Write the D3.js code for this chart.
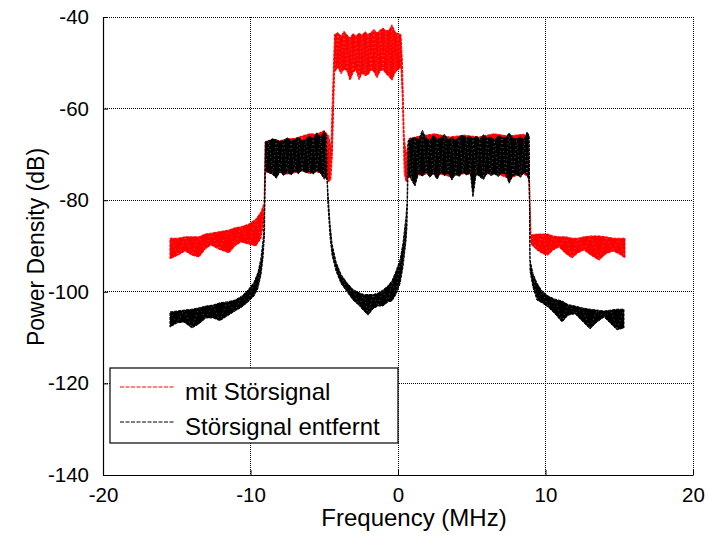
<!DOCTYPE html>
<html>
<head>
<meta charset="utf-8">
<script src="https://cdn.jsdelivr.net/npm/d3@7"></script>
<style>
body { margin: 0; background: #fff; }
svg { display: block; font-family: "Liberation Sans", Arial, sans-serif; }
</style>
</head>
<body>
<svg id="plot" width="708" height="539"></svg>
<script>
// axis ticks
const xTicks = [-20, -10, 0, 10, 20];
const yTicks = [-140, -120, -100, -80, -60, -40];
const legendLabels = ["mit Störsignal", "Störsignal entfernt"];

// spectra: [frequency MHz, upper envelope dB, lower envelope dB]
const redLeftSkirt = [
    [-15.46, -88.3, -92.8], [-14.92, -88.3, -92.0], [-14.44, -88.0, -91.1], [-13.97, -88.0, -92.0],
    [-13.49, -88.0, -92.4], [-13.08, -87.4, -90.7], [-12.68, -87.2, -89.8], [-12.14, -86.9, -90.7],
    [-11.46, -86.5, -91.5], [-11.05, -86.0, -90.0], [-10.64, -85.8, -89.1], [-10.10, -85.2, -89.6],
    [-9.63, -84.1, -90.0], [-9.29, -82.6, -88.3], [-9.08, -80.6, -84.3]
];
const redLeftBand = [
    [-9.0, -67.2, -73.8], [-8.5, -66.8, -74.2], [-8.0, -67.0, -74.0], [-7.5, -66.6, -74.3],
    [-7.0, -66.5, -74.0], [-6.5, -66.0, -73.6], [-6.0, -65.5, -74.2], [-5.5, -65.6, -73.8],
    [-5.0, -64.8, -74.5], [-4.7, -66.0, -76.0], [-4.55, -68.5, -75.5], [-4.45, -58.0, -70.0]
];
const redCentre = [
    [-4.30, -43.8, -52.0], [-4.07, -43.4, -51.0], [-3.86, -44.2, -52.4], [-3.66, -43.1, -51.4],
    [-3.46, -43.9, -51.8], [-3.25, -44.6, -53.8], [-3.05, -43.6, -52.2], [-2.85, -44.2, -51.5],
    [-2.64, -43.5, -53.7], [-2.44, -44.0, -52.3], [-2.24, -43.2, -52.8], [-2.03, -43.8, -52.6],
    [-1.83, -43.4, -51.5], [-1.63, -42.7, -52.0], [-1.42, -43.5, -53.3], [-1.22, -42.9, -51.8],
    [-1.02, -42.4, -51.5], [-0.81, -43.0, -52.4], [-0.61, -42.9, -53.0], [-0.41, -41.7, -53.8],
    [-0.20, -43.3, -52.2], [0.0, -43.6, -51.5], [0.20, -43.8, -51.0], [0.30, -50.0, -58.0],
    [0.42, -66.0, -74.0], [0.55, -70.0, -76.0]
];
const redRightBand = [
    [0.75, -66.5, -74.8], [1.5, -66.0, -74.5], [2.5, -65.5, -74.0], [3.5, -66.2, -74.8],
    [4.5, -65.8, -74.2], [5.5, -66.2, -74.6], [6.5, -65.5, -74.0], [7.5, -66.0, -75.2],
    [8.5, -65.6, -74.2], [8.85, -66.2, -75.0], [8.95, -80.0, -84.0]
];
const redRightSkirt = [
    [9.02, -87.6, -89.6], [9.42, -87.4, -90.9], [9.83, -87.4, -91.7], [10.17, -87.4, -92.0],
    [10.51, -87.8, -90.9], [10.92, -88.0, -90.2], [11.39, -88.0, -91.7], [11.80, -88.3, -92.6],
    [12.20, -88.3, -91.5], [12.61, -88.0, -90.9], [13.08, -87.8, -92.0], [13.63, -87.8, -93.1],
    [14.10, -88.0, -91.7], [14.58, -88.3, -91.1], [14.98, -88.3, -91.7], [15.39, -88.3, -92.6]
];

const blackLeftSkirt = [
    [-15.46, -104.4, -107.7], [-14.98, -104.2, -106.8], [-14.51, -104.0, -106.6], [-13.97, -103.8, -107.9],
    [-13.49, -103.5, -107.0], [-13.02, -103.1, -105.7], [-12.54, -102.9, -105.7], [-12.07, -102.4, -106.3],
    [-11.59, -102.2, -105.3], [-11.05, -101.8, -104.2], [-10.58, -100.9, -103.3], [-10.17, -99.6, -102.2],
    [-9.76, -97.9, -100.9], [-9.49, -95.7, -99.2], [-9.29, -92.6, -96.3], [-9.15, -88.7, -92.6],
    [-9.05, -83.2, -87.6]
];
const blackLeftBand = [
    [-9.0, -67.3, -73.5], [-8.75, -67.0, -74.0], [-8.5, -66.6, -74.4], [-8.25, -66.8, -75.2],
    [-8.0, -67.2, -73.8], [-7.75, -66.9, -74.6], [-7.5, -66.4, -73.9], [-7.25, -67.0, -74.5],
    [-7.0, -66.8, -73.6], [-6.75, -66.2, -74.2], [-6.5, -67.1, -73.4], [-6.25, -66.7, -74.0],
    [-6.0, -66.0, -73.7], [-5.75, -66.6, -74.3], [-5.5, -65.3, -73.5], [-5.25, -66.3, -74.1],
    [-5.0, -65.0, -75.4], [-4.85, -66.0, -75.0]
];
const blackValley = [
    [-4.81, -74.5, -76.0], [-4.75, -78.0, -81.0], [-4.61, -85.0, -88.0], [-4.47, -89.5, -92.0],
    [-4.20, -93.5, -95.5], [-3.86, -96.2, -98.2], [-3.46, -98.0, -100.0], [-3.05, -99.5, -101.8],
    [-2.64, -100.2, -103.0], [-2.31, -100.6, -104.2], [-2.03, -100.6, -105.1], [-1.69, -100.6, -103.7],
    [-1.36, -100.3, -103.1], [-1.02, -99.6, -103.1], [-0.68, -98.7, -102.2], [-0.41, -97.6, -102.0],
    [-0.14, -95.5, -100.6], [0.14, -93.0, -98.2], [0.34, -89.3, -94.6], [0.54, -83.5, -89.0],
    [0.61, -80.6, -85.8]
];
const blackRightBand = [
    [0.68, -67.0, -74.5], [0.90, -66.6, -75.5], [1.15, -66.3, -76.9], [1.40, -66.8, -74.0],
    [1.65, -64.7, -74.8], [1.90, -66.5, -73.8], [2.15, -66.9, -75.0], [2.40, -65.8, -74.2],
    [2.65, -66.7, -75.4], [2.90, -66.4, -73.9], [3.15, -65.6, -74.6], [3.40, -66.8, -74.0],
    [3.65, -66.3, -75.6], [3.90, -66.9, -74.3], [4.15, -66.2, -74.8], [4.40, -65.8, -73.9],
    [4.65, -66.4, -74.5], [4.90, -66.1, -74.0], [5.08, -66.6, -79.3], [5.30, -66.0, -74.2],
    [5.55, -66.7, -74.9], [5.80, -65.7, -75.5], [6.05, -66.5, -74.0], [6.30, -66.2, -74.6],
    [6.55, -66.9, -74.3], [6.80, -65.9, -74.8], [7.05, -66.3, -74.1], [7.30, -66.4, -74.2],
    [7.53, -65.3, -76.3], [7.80, -66.5, -74.6], [8.05, -66.6, -74.4], [8.30, -66.2, -75.0],
    [8.55, -66.8, -74.0], [8.75, -65.1, -74.4], [8.90, -66.0, -76.0]
];
const blackRightSkirt = [
    [8.95, -93.0, -95.5], [9.15, -96.0, -99.0], [9.42, -98.1, -101.8], [9.76, -99.8, -102.4],
    [10.17, -100.9, -103.3], [10.64, -101.6, -104.8], [11.12, -102.0, -106.6], [11.53, -102.8, -105.1],
    [12.00, -103.1, -104.8], [12.47, -103.5, -106.3], [13.02, -103.8, -108.1], [13.49, -104.0, -106.6],
    [13.97, -104.2, -105.5], [14.44, -104.0, -107.0], [14.85, -103.8, -108.3], [15.32, -103.8, -107.9]
];

const redSpectrum = [].concat(redLeftSkirt, redLeftBand, redCentre, redRightBand, redRightSkirt);
const blackSpectrum = [].concat(blackLeftSkirt, blackLeftBand, blackValley, blackRightBand, blackRightSkirt);

const svg = d3.select("#plot");
const plotLeft = 103, plotRight = 693, plotTop = 17, plotBottom = 475;

let xScale = d3.scaleLinear().domain([-20, 20]).range([plotLeft, plotRight]);
let yScale = d3.scaleLinear().domain([-140, -40]).range([plotBottom, plotTop]);

// dotted grid, top and right edge included
svg.append("g").selectAll("line")
    .data(xTicks.slice(1))
    .enter()
    .append("line")
    .attr("x1", d => xScale(d)).attr("x2", d => xScale(d))
    .attr("y1", plotTop).attr("y2", plotBottom)
    .attr("stroke", "#000").attr("stroke-width", 1)
    .attr("stroke-dasharray", "1,1")
    .attr("shape-rendering", "crispEdges");

svg.append("g").selectAll("line")
    .data(yTicks.slice(1))
    .enter()
    .append("line")
    .attr("x1", plotLeft).attr("x2", plotRight)
    .attr("y1", d => yScale(d)).attr("y2", d => yScale(d))
    .attr("stroke", "#000").attr("stroke-width", 1)
    .attr("stroke-dasharray", "1,1")
    .attr("shape-rendering", "crispEdges");

const band = d3.area()
    .x(d => xScale(d[0]))
    .y0(d => yScale(d[2]))
    .y1(d => yScale(d[1]));

// zigzag between the envelopes, gives the hatched look of the dense trace
const zigzag = d3.line()
    .x((d, i) => xScale(d[0]))
    .y((d, i) => yScale(i % 2 ? d[2] : d[1]));

function drawSpectrum(data, colour) {
    svg.append("path")
        .datum(data)
        .attr("d", band)
        .attr("fill", colour)
        .attr("stroke", colour)
        .attr("stroke-width", 1)
        .attr("stroke-dasharray", "3,1")
        .attr("stroke-linejoin", "round");
    svg.append("path")
        .datum(data)
        .attr("d", zigzag)
        .attr("fill", "none")
        .attr("stroke", "#fff")
        .attr("stroke-width", 0.6)
        .attr("stroke-opacity", 0.55)
        .attr("stroke-dasharray", "1,3");
}

drawSpectrum(redSpectrum, "#ff0000");
drawSpectrum(blackSpectrum, "#000");

const axisB = d3.axisBottom(xScale)
    .tickValues(xTicks)
    .tickFormat(d => String(d))
    .tickSizeInner(-5)
    .tickSizeOuter(0)
    .tickPadding(12);

const axisL = d3.axisLeft(yScale)
    .tickValues(yTicks)
    .tickFormat(d => String(d))
    .tickSizeInner(-5)
    .tickSizeOuter(0)
    .tickPadding(14);

const gx = svg.append("g")
    .attr("transform", "translate(0," + plotBottom + ")")
    .call(axisB);

const gy = svg.append("g")
    .attr("transform", "translate(" + plotLeft + ",0)")
    .call(axisL);

[gx, gy].forEach(g => {
    g.select(".domain").attr("stroke", "#000").attr("stroke-width", 1.2);
    g.selectAll(".tick line").attr("stroke", "#000");
    g.selectAll(".tick text")
        .attr("fill", "#000")
        .style("font-size", "20.5px")
        .style("font-family", "'Liberation Sans', Arial, sans-serif");
});

svg.append("text")
    .attr("x", 414)
    .attr("y", 526)
    .style("text-anchor", "middle")
    .style("font-size", "24px")
    .text("Frequency (MHz)");

svg.append("text")
    .attr("transform", "translate(44, 247) rotate(-90)")
    .style("text-anchor", "middle")
    .style("font-size", "23px")
    .text("Power Density (dB)");

// legend
const legend = svg.append("g");
legend.append("rect")
    .attr("x", 110).attr("y", 368)
    .attr("width", 288).attr("height", 75)
    .attr("fill", "#fff")
    .attr("stroke", "#000")
    .attr("stroke-width", 1.2);

const legendColors = ["#ff0000", "#000"];
legendLabels.forEach((label, i) => {
    const ly = 387 + i * 35;
    legend.append("line")
        .attr("x1", 120).attr("x2", 175)
        .attr("y1", ly).attr("y2", ly)
        .attr("stroke", legendColors[i])
        .attr("stroke-width", 1)
        .attr("stroke-dasharray", "4,1.5");
    legend.append("text")
        .attr("x", 185)
        .attr("y", ly + 13)
        .style("font-size", "24px")
        .text(label);
});
</script>
</body>
</html>
